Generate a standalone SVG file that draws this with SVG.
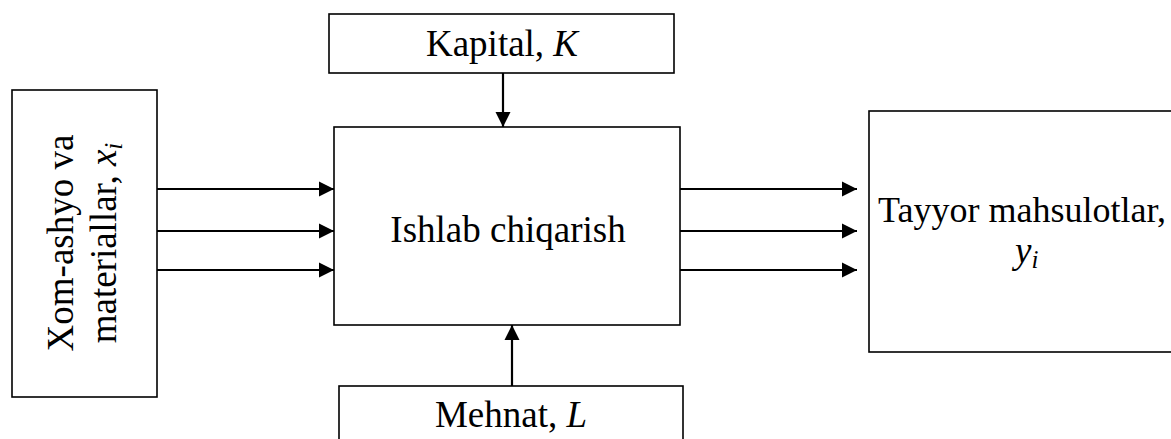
<svg xmlns="http://www.w3.org/2000/svg" width="1171" height="439" viewBox="0 0 1171 439">
<style>
.box{fill:#fff;stroke:#000;stroke-width:1.6}
.t{font-family:"Liberation Serif","Times New Roman",serif;font-size:37px;fill:#000}
.it{font-style:italic}
.sub{font-style:italic;font-size:25px}
.c{stroke:#000;stroke-width:2.2;fill:none;marker-end:url(#ah)}
</style>
<defs>
<marker id="ah" markerUnits="userSpaceOnUse" markerWidth="16" markerHeight="16" refX="15" refY="8" orient="auto">
<path d="M0,0.5 L15,8 L0,15.5 Z" fill="#000"/>
</marker>
</defs>
<rect width="1171" height="439" fill="#fff"/>
<g id="node-xom">
<rect class="box" x="12" y="90" width="145" height="307"/>
<text class="t" text-anchor="middle" transform="translate(73,243) rotate(-90)">Xom-ashyo va</text>
<text class="t" text-anchor="middle" transform="translate(116,243) rotate(-90)">materiallar, <tspan class="it">x</tspan><tspan class="sub" dy="6">i</tspan></text>
</g>
<g id="node-kapital">
<rect class="box" x="329" y="14" width="345" height="59"/>
<text class="t" x="502" y="56" text-anchor="middle">Kapital, <tspan class="it">K</tspan></text>
</g>
<g id="node-ishlab">
<rect class="box" x="334" y="127" width="346" height="198"/>
<text class="t" x="508" y="242" text-anchor="middle">Ishlab chiqarish</text>
</g>
<g id="node-mehnat">
<rect class="box" x="339" y="386" width="344" height="70"/>
<text class="t" x="511" y="427" text-anchor="middle">Mehnat, <tspan class="it">L</tspan></text>
</g>
<g id="node-tayyor">
<rect class="box" x="869" y="111" width="320" height="241"/>
<text class="t" x="878" y="222" style="font-size:36px">Tayyor mahsulotlar,</text>
<text class="t" x="1015" y="263"><tspan class="it">y</tspan><tspan class="sub" dy="5">i</tspan></text>
</g>
<g id="connectors">
<line class="c" x1="157" y1="189" x2="334" y2="189"/>
<line class="c" x1="157" y1="231" x2="334" y2="231"/>
<line class="c" x1="157" y1="270" x2="334" y2="270"/>
<line class="c" x1="680" y1="189" x2="857" y2="189"/>
<line class="c" x1="680" y1="231" x2="857" y2="231"/>
<line class="c" x1="680" y1="270" x2="857" y2="270"/>
<line class="c" x1="503" y1="73" x2="503" y2="127"/>
<line class="c" x1="512" y1="386" x2="512" y2="325"/>
</g>
</svg>
